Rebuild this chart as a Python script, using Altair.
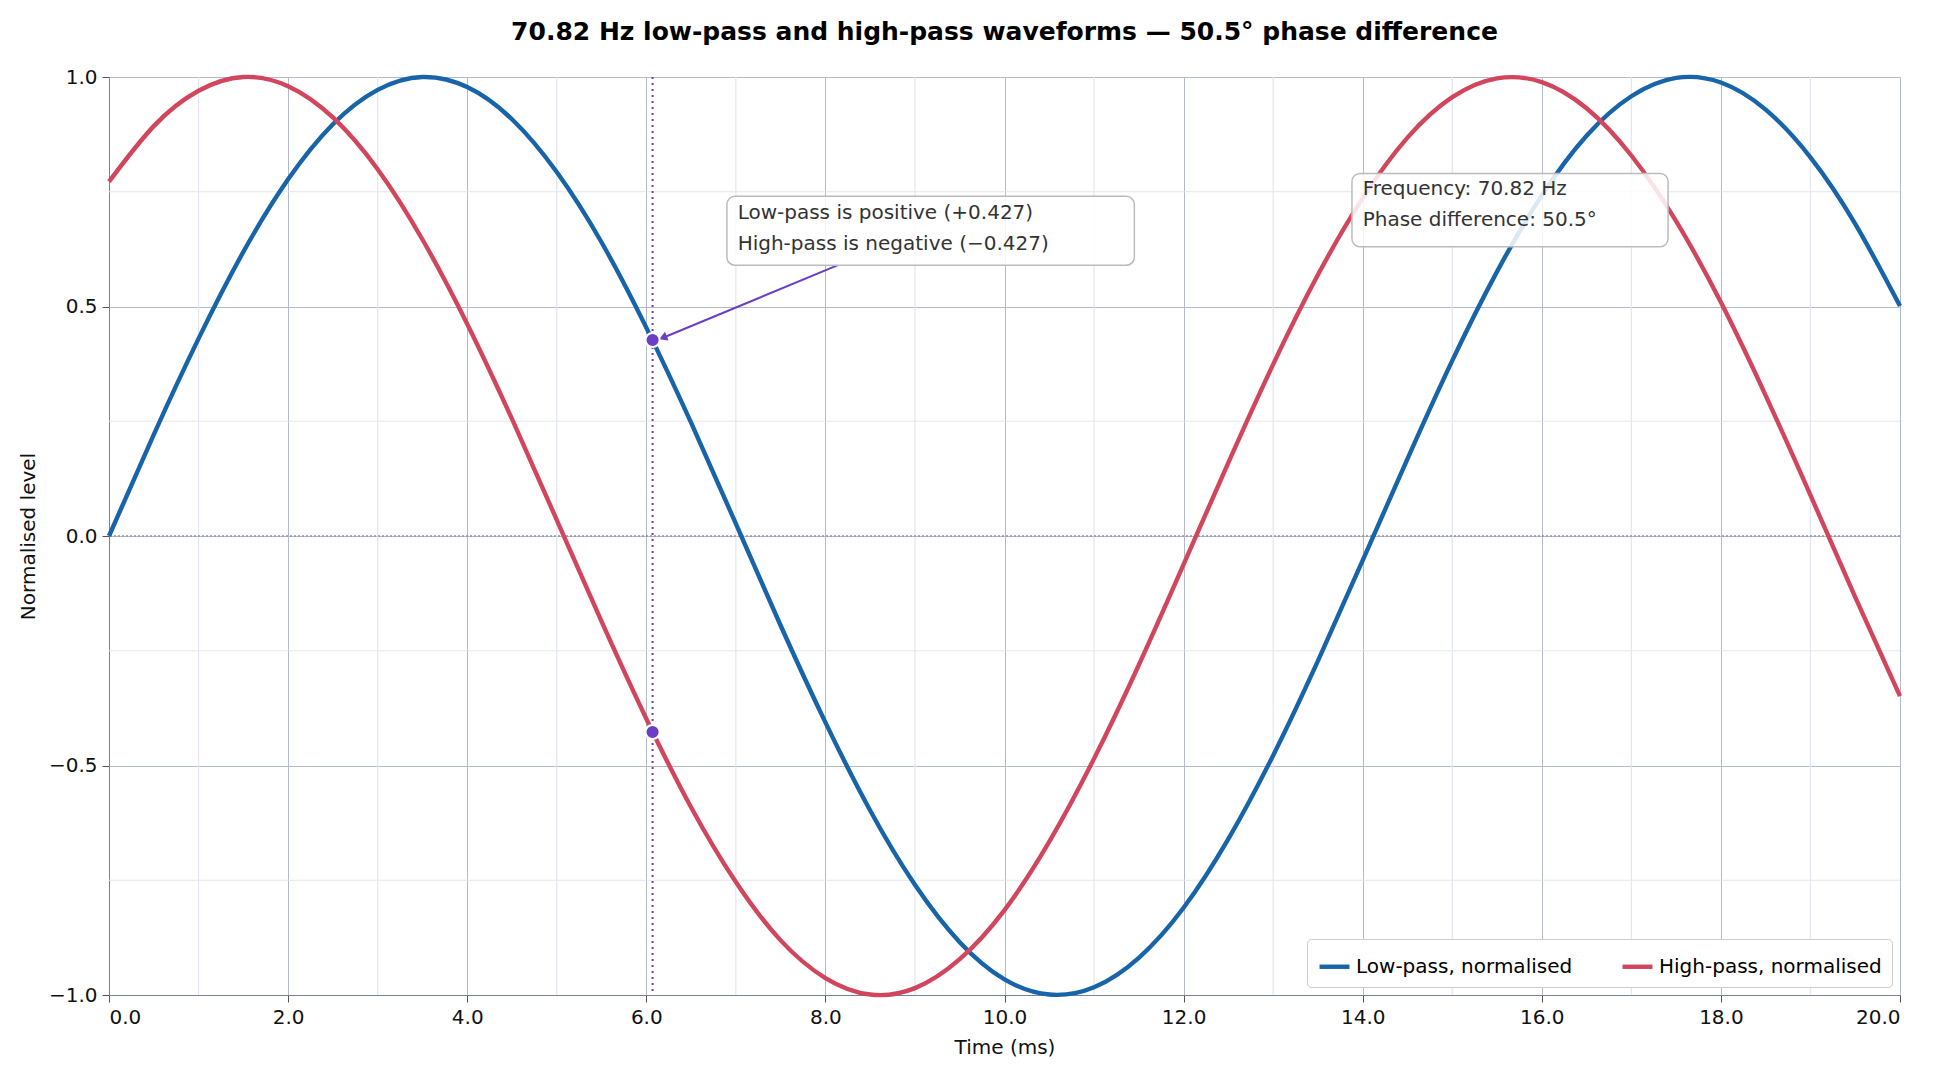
import altair as alt
import pandas as pd

# sampled waveform values (ms, normalised level)
time_ms = [i * 0.5 for i in range(41)]
low_pass = [0.000, 0.221, 0.430, 0.619, 0.777, 0.897, 0.972, 1.000, 0.978, 0.908,
            0.793, 0.640, 0.454, 0.247, 0.027, -0.195, -0.406, -0.598, -0.760, -0.885,
            -0.966, -0.999, -0.983, -0.919, -0.810, -0.660, -0.478, -0.272, -0.053, 0.168,
            0.382, 0.576, 0.742, 0.872, 0.958, 0.998, 0.988, 0.929, 0.825, 0.680, 0.501]
high_pass = [0.772, 0.893, 0.970, 1.000, 0.980, 0.912, 0.799, 0.646, 0.462, 0.255,
             0.035, -0.186, -0.398, -0.591, -0.754, -0.881, -0.963, -0.999, -0.985, -0.922,
             -0.815, -0.666, -0.485, -0.281, -0.062, 0.160, 0.374, 0.569, 0.736, 0.868,
             0.956, 0.997, 0.989, 0.932, 0.829, 0.686, 0.509, 0.306, 0.089, -0.133, -0.349]
series_names = ["Low-pass, normalised", "High-pass, normalised"]
series_colors = ["#1764a8", "#d1465c"]

marker_t = 6.07
marker_vals = [0.427, -0.427]
minor_x = [1, 3, 5, 7, 9, 11, 13, 15, 17, 19]
minor_y = [-0.75, -0.25, 0.25, 0.75]

waves = pd.DataFrame(
    [{"t": t, "v": v, "s": series_names[0]} for t, v in zip(time_ms, low_pass)]
    + [{"t": t, "v": v, "s": series_names[1]} for t, v in zip(time_ms, high_pass)]
)

xs = alt.Scale(domain=[0, 20], nice=False)
ys = alt.Scale(domain=[-1, 1], nice=False)
X = lambda f: alt.X(f, type="quantitative", scale=xs)
Y = lambda f: alt.Y(f, type="quantitative", scale=ys)

minor_vx = alt.Chart(pd.DataFrame({"t": minor_x})).mark_rule(color="#e3e6ee", strokeWidth=1.2).encode(x=X("t"))
minor_hy = alt.Chart(pd.DataFrame({"v": minor_y})).mark_rule(color="#e3e6ee", strokeWidth=1.2).encode(y=Y("v"))

zero = alt.Chart(pd.DataFrame({"v": [0]})).mark_rule(
    color="#8a93a8", strokeDash=[2, 2], strokeWidth=1.5).encode(y=Y("v"))
vline = alt.Chart(pd.DataFrame({"t": [marker_t]})).mark_rule(
    color="#6a3fc4", strokeDash=[2, 4], strokeWidth=2).encode(x=X("t"))

lines = alt.Chart(waves).mark_line(strokeWidth=4.4, interpolate="natural").encode(
    x=alt.X("t:Q", scale=xs, title="Time (ms)",
            axis=alt.Axis(values=list(range(0, 21, 2)), labelOverlap=False, gridColor="#b4b9cc",
                          gridOpacity=1, domainColor="#7a8299", tickColor="#555")),
    y=alt.Y("v:Q", scale=ys, title="Normalised level",
            axis=alt.Axis(values=[-1, -0.5, 0, 0.5, 1], format=".1f", gridColor="#b4b9cc",
                          gridOpacity=1, domainColor="#7a8299", tickColor="#555",
                          labelExpr="replace(datum.label, '-', '\u2212')")),
    color=alt.Color("s:N", scale=alt.Scale(domain=series_names, range=series_colors),
                    legend=alt.Legend(title=None, orient="bottom-right", direction="horizontal",
                                      symbolType="stroke", symbolStrokeWidth=4.4, symbolSize=900,
                                      labelFontSize=20, labelLimit=0, fillColor="white",
                                      strokeColor="#ccc", padding=10, columnPadding=40, offset=8,
                                      cornerRadius=4)),
)

pts = alt.Chart(pd.DataFrame({"t": [marker_t] * 2, "v": marker_vals})).mark_point(
    filled=True, size=200, color="#6a3fc4", stroke="white", strokeWidth=2, opacity=1
).encode(x=X("t"), y=Y("v"))

arrow = alt.Chart(pd.DataFrame({"t": [8.14, 6.2], "v": [0.59, 0.433]})).mark_line(
    color="#6a3fc4", strokeWidth=2).encode(x=X("t"), y=Y("v"))
head = alt.Chart(pd.DataFrame({"t": [6.2], "v": [0.433]})).mark_point(
    shape="triangle", filled=True, size=90, angle=248, color="#6a3fc4", opacity=1
).encode(x=X("t"), y=Y("v"))

boxes = alt.Chart(pd.DataFrame({
    "t1": [6.9, 13.88], "t2": [11.45, 17.41], "v1": [0.59, 0.63], "v2": [0.74, 0.79]
})).mark_rect(fill="white", fillOpacity=0.85, stroke="#bbbbbb", strokeWidth=1.5, cornerRadius=8).encode(
    x=X("t1"), x2="t2", y=Y("v1"), y2="v2")

notes = alt.Chart(pd.DataFrame({
    "t": [7.02, 7.02, 14.0, 14.0],
    "v": [0.703, 0.636, 0.755, 0.689],
    "txt": ["Low-pass is positive (+0.427)", "High-pass is negative (\u22120.427)",
            "Frequency: 70.82 Hz", "Phase difference: 50.5\u00b0"],
})).mark_text(align="left", baseline="middle", fontSize=20, color="#333").encode(
    x=X("t"), y=Y("v"), text="txt:N")

chart = alt.layer(minor_vx, minor_hy, zero, lines, vline, arrow, head, pts, boxes, notes).properties(
    width=1791, height=918,
    title=alt.Title("70.82 Hz low-pass and high-pass waveforms \u2014 50.5\u00b0 phase difference",
                    fontSize=25, fontWeight="bold", offset=22),
).configure_view(fill="#f8fafc", stroke="#7a8299").configure(
    font="DejaVu Sans", padding={"left": 10, "top": 12, "right": 10, "bottom": 5}
).configure_axis(labelFontSize=20, titleFontSize=20, titleFontWeight="normal", labelColor="#111",
                 titleColor="#111", tickSize=7, labelPadding=5, titlePadding=10)

chart.save("out.html", embed_options={"renderer": "svg", "actions": False})
